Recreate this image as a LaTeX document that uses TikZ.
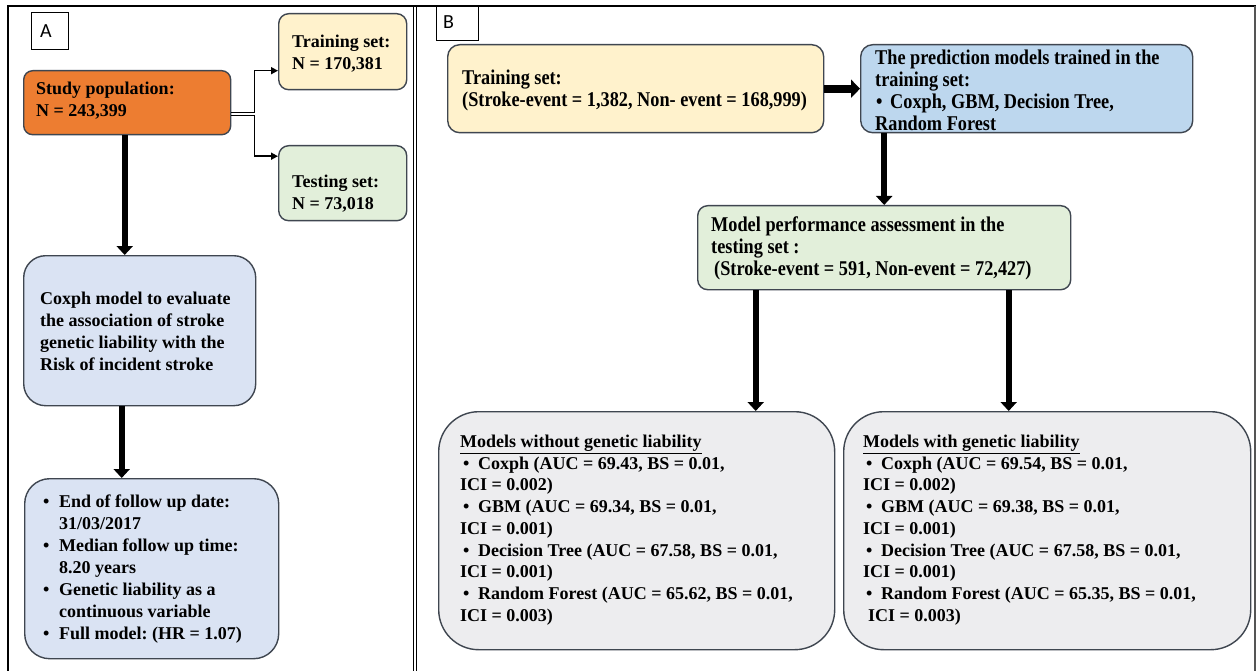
\documentclass[tikz,border=0pt]{standalone}
\usepackage{fontspec}
\setmainfont{Liberation Serif}
\newfontfamily\condserif{Liberation Serif}[FakeStretch=0.87]
\newfontfamily\labelsans{Carlito}
\usetikzlibrary{arrows.meta}

\definecolor{orangefill}{HTML}{ED7D31}
\definecolor{yellowfill}{HTML}{FFF2CC}
\definecolor{greenfill}{HTML}{E2EFDA}
\definecolor{paleblue}{HTML}{DAE3F3}
\definecolor{midblue}{HTML}{BDD7EE}
\definecolor{grayfill}{HTML}{EDEDEF}
\definecolor{edge}{HTML}{3F4650}
\definecolor{framegray}{HTML}{555555}

\newcommand\itembul[1][16pt]{\makebox[#1][l]{\textbullet}}
\frenchspacing

\begin{document}
\begin{tikzpicture}[x=1pt,y=-1pt,
  box/.style={draw=edge, line width=1.4pt, anchor=north west, inner sep=0pt},
  txtA/.style={anchor=west, inner sep=0pt, align=left,
    font=\frenchspacing\bfseries\fontsize{18}{22}\selectfont},
  txtB/.style={anchor=west, inner sep=0pt, align=left,
    font=\frenchspacing\condserif\bfseries\fontsize{21}{22}\selectfont},
  txtC/.style={anchor=west, inner sep=0pt, align=left,
    font=\frenchspacing\bfseries\fontsize{18}{21.75}\selectfont},
  bigarrow/.style={line width=6pt, -{Triangle[width=16pt,length=9pt]}},
  thinarrow/.style={line width=1.6pt, -{Triangle[width=7pt,length=7pt]}},
  panellabel/.style={draw=black, line width=0.8pt, fill=white, anchor=north west,
    inner sep=0pt, font=\labelsans\fontsize{20}{22}\selectfont}
]
\useasboundingbox (0,0) rectangle (1258,671);
\fill[white] (0,0) rectangle (1258,671);

% outer frame and panel divider
\draw[line width=2pt] (8,671) -- (8,6) -- (1256,6);
\draw[framegray, line width=1.4pt] (1255,6) -- (1255,671);
\draw[line width=0.9pt] (413.5,6) -- (413.5,671);
\draw[line width=0.9pt] (416.5,6) -- (416.5,671);

% ---------------- panel A ----------------
\node[panellabel, minimum width=37pt, minimum height=37pt] (labA) at (31,12) {};
\node[anchor=west, inner sep=0pt, font=\labelsans\fontsize{20}{22}\selectfont] (labAt) at (40,31) {A};

\node[box, fill=orangefill, rounded corners=9pt, minimum width=207pt, minimum height=64pt] (studyA) at (23,70) {};
\node[txtA] (studyAt) at (36,101) {Study population:\\N = 243,399};

\node[box, fill=yellowfill, rounded corners=10pt, minimum width=128pt, minimum height=76pt] (trainA) at (278,13) {};
\node[txtA] (trainAt) at (292,54) {Training set:\\N = 170,381};

\node[box, fill=greenfill, rounded corners=10pt, minimum width=128pt, minimum height=75pt] (testA) at (278,145) {};
\node[txtA] (testAt) at (292,194) {Testing set:\\N = 73,018};

\node[box, fill=paleblue, rounded corners=22pt, minimum width=232pt, minimum height=150pt] (coxA) at (23,255) {};
\node[txtA] (coxAt) at (40,331) {Coxph model to evaluate\\the association of stroke\\genetic liability with the\\Risk of incident stroke};

\node[box, fill=paleblue, rounded corners=25pt, minimum width=254pt, minimum height=180pt] (bulA) at (24,478) {};
\node[txtA] (bulAt) at (43,569) {\itembul End of follow up date:\\
\hspace*{16pt}31/03/2017\\
\itembul Median follow up time:\\
\hspace*{16pt}8.20 years\\
\itembul Genetic liability as a\\
\hspace*{16pt}continuous variable\\
\itembul Full model: (HR = 1.07)};

% split of the study population
\draw[thinarrow] ([yshift=-10pt]studyA.east) -- ++(23,0) |- ([yshift=-19pt]trainA.west);
\draw[thinarrow] ([yshift=-13pt]studyA.east) -- ++(23,0) |- ([yshift=27pt]testA.west);

\draw[bigarrow] ([xshift=-2.5pt]studyA.south) -- ([xshift=-2.5pt]studyA.south |- coxA.north);
\draw[bigarrow] ([xshift=-18pt]coxA.south) -- ([xshift=-18pt]coxA.south |- bulA.north);

% ---------------- panel B ----------------
\node[panellabel, minimum width=42pt, minimum height=34pt] (labB) at (436,6) {};
\node[anchor=west, inner sep=0pt, font=\labelsans\fontsize{20}{22}\selectfont] (labBt) at (443,22) {B};

\node[box, fill=yellowfill, rounded corners=12pt, minimum width=376pt, minimum height=88pt] (trainB) at (447,44) {};
\node[txtB] (trainBt) at (462,90) {Training set:\\(Stroke-event = 1,382, Non- event = 168,999)};

\node[box, fill=midblue, rounded corners=12pt, minimum width=332pt, minimum height=88pt] (predB) at (860,44) {};
\node[txtB] (predBt) at (875,90) {The prediction models trained in the\\training set:\\
\hspace*{1pt}\itembul[14pt]Coxph, GBM, Decision Tree,\\Random Forest};

\node[box, fill=greenfill, rounded corners=10pt, minimum width=373pt, minimum height=84pt] (perfB) at (697,205) {};
\node[txtB] (perfBt) at (711,248) {Model performance assessment in the\\testing set :\\
\hspace*{3pt}(Stroke-event = 591, Non-event = 72,427)};

\node[box, fill=grayfill, rounded corners=40pt, minimum width=396pt, minimum height=238pt] (leftB) at (438,411) {};
\node[txtC] (leftBt) at (460,530) {\underline{Models without genetic liability}\\
\hspace*{3pt}\itembul[15pt]Coxph (AUC = 69.43, BS = 0.01,\\
ICI = 0.002)\\
\hspace*{3pt}\itembul[15pt]GBM (AUC = 69.34, BS = 0.01,\\
ICI = 0.001)\\
\hspace*{3pt}\itembul[15pt]Decision Tree (AUC = 67.58, BS = 0.01,\\
ICI = 0.001)\\
\hspace*{3pt}\itembul[15pt]Random Forest (AUC = 65.62, BS = 0.01,\\
ICI = 0.003)};

\node[box, fill=grayfill, rounded corners=40pt, minimum width=407pt, minimum height=238pt] (rightB) at (843,411) {};
\node[txtC] (rightBt) at (863,530) {\underline{Models with genetic liability}\\
\hspace*{3pt}\itembul[15pt]Coxph (AUC = 69.54, BS = 0.01,\\
ICI = 0.002)\\
\hspace*{3pt}\itembul[15pt]GBM (AUC = 69.38, BS = 0.01,\\
ICI = 0.001)\\
\hspace*{3pt}\itembul[15pt]Decision Tree (AUC = 67.58, BS = 0.01,\\
ICI = 0.001)\\
\hspace*{3pt}\itembul[15pt]Random Forest (AUC = 65.35, BS = 0.01,\\
\hspace*{5pt}ICI = 0.003)};

\draw[line width=8pt, -{Triangle[width=18pt,length=9pt]}] (trainB.east) -- (predB.west);
\draw[bigarrow] (perfB.north |- predB.south) -- (perfB.north);
\draw[bigarrow] ([xshift=-128.5pt]perfB.south) -- ([xshift=-128.5pt]perfB.south |- leftB.north);
\draw[bigarrow] ([xshift=124.5pt]perfB.south) -- ([xshift=124.5pt]perfB.south |- rightB.north);
\end{tikzpicture}
\end{document}
